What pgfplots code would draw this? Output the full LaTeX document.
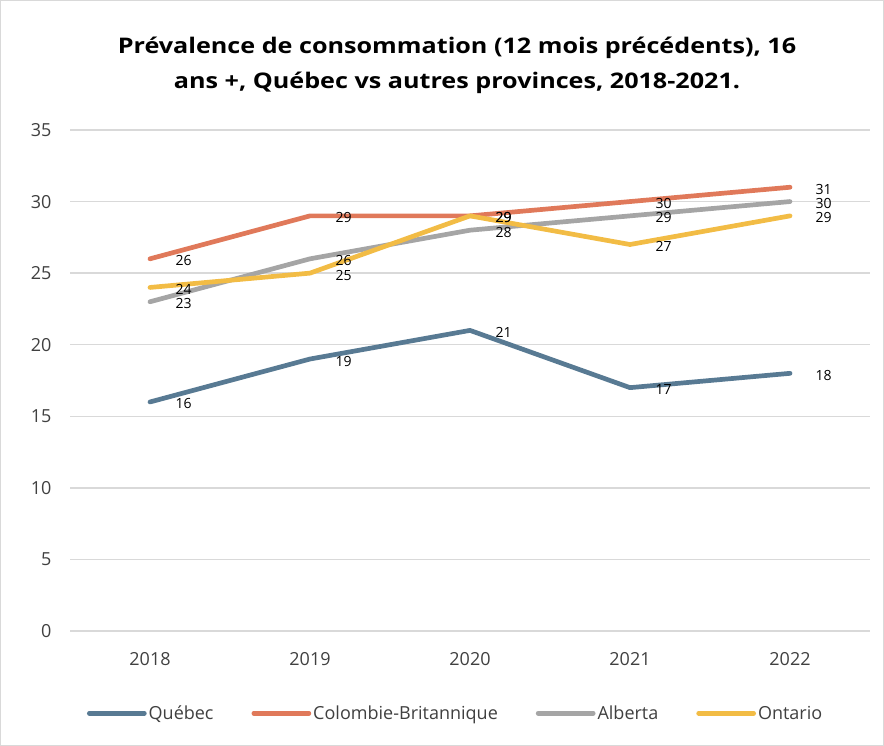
\documentclass[border=0pt]{standalone}
\usepackage{fontspec}
\setmainfont{Open Sans}
\newfontfamily\titlefont[FakeStretch=1.17]{Open Sans}
\usepackage{pgfplots}
\pgfplotsset{compat=1.18}
\definecolor{cQC}{HTML}{587A93}
\definecolor{cCB}{HTML}{E0795A}
\definecolor{cAB}{HTML}{A5A5A5}
\definecolor{cON}{HTML}{F2BC45}
\definecolor{gridgray}{HTML}{D9D9D9}
\definecolor{textgray}{HTML}{404040}
\begin{document}
\begin{tikzpicture}[x=1bp,y=1bp]
\draw[color=gridgray, line width=1bp] (0.5,0.5) rectangle (883.5,745.5);
\node[align=center, font=\titlefont\bfseries\fontsize{21.5bp}{35bp}\selectfont] at (457,681)
  {Prévalence de consommation (12 mois précédents), 16\\ans +, Québec vs autres provinces, 2018-2021.};
\begin{axis}[
  at={(70bp,115bp)}, anchor=south west,
  width=800bp, height=501bp, scale only axis,
  xmin=-0.5, xmax=4.5, ymin=0, ymax=35,
  ytick={0,5,...,35}, xtick={0,1,2,3,4},
  xticklabels={2018,2019,2020,2021,2022},
  /pgf/number format/assume math mode=true,
  axis line style={draw=none}, major tick length=0,
  ymajorgrids, grid style={color=gridgray, line width=1.3bp},
  tick label style={font=\fontsize{18bp}{21bp}\selectfont, text=textgray},
  yticklabel style={xshift=-15bp},
  xticklabel style={yshift=-18bp},
  every axis plot/.append style={line width=4.7bp, line cap=round, line join=round, mark=none},
  nodes near coords,
  every node near coord/.append style={anchor=west, xshift=20bp, yshift=-2bp, font=\fontsize{14bp}{16bp}\selectfont, text=black},
  legend columns=4,
  legend style={draw=none, at={(0.482,-0.164)}, anchor=center,
    font=\fontsize{18bp}{21bp}\selectfont, text=textgray,
    /tikz/every even column/.append style={column sep=36bp},
    /tikz/every odd column/.append style={column sep=0bp}},
  legend image code/.code={\draw[#1] (0bp,0bp) -- (55bp,0bp);},
]
\addplot[color=cQC] coordinates {(0,16) (1,19) (2,21) (3,17) (4,18)};
\addlegendentry{Québec}
\addplot[color=cCB] coordinates {(0,26) (1,29) (2,29) (3,30) (4,31)};
\addlegendentry{Colombie-Britannique}
\addplot[color=cAB] coordinates {(0,23) (1,26) (2,28) (3,29) (4,30)};
\addlegendentry{Alberta}
\addplot[color=cON] coordinates {(0,24) (1,25) (2,29) (3,27) (4,29)};
\addlegendentry{Ontario}
\end{axis}
\end{tikzpicture}
\end{document}
